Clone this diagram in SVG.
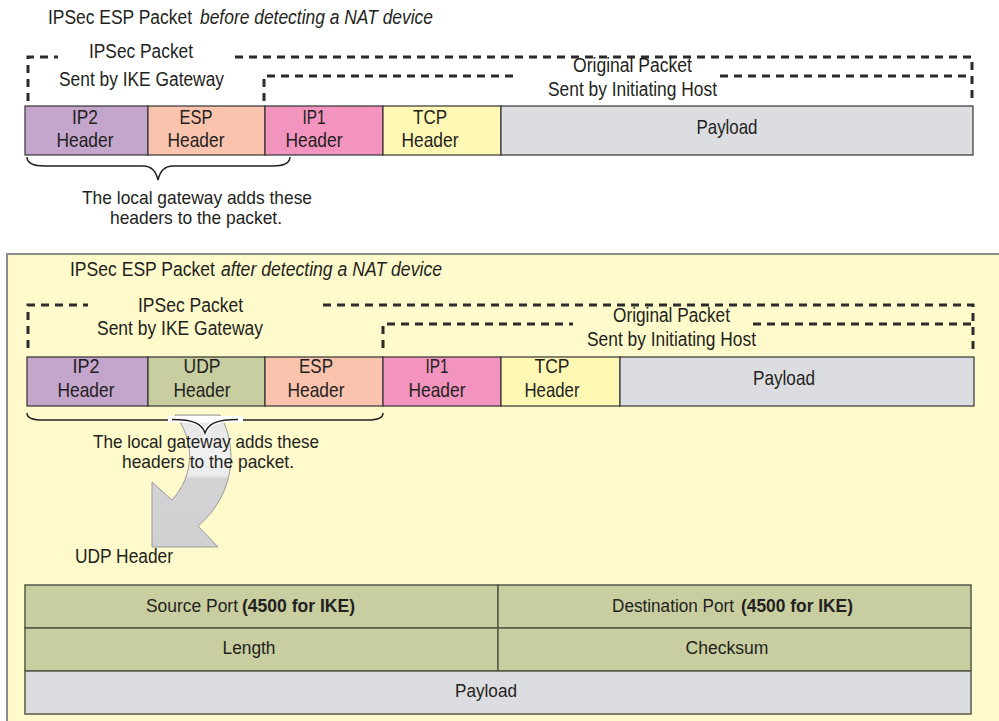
<svg xmlns="http://www.w3.org/2000/svg" width="999" height="721" viewBox="0 0 999 721">
<defs>
<style>
.t{font-family:"Liberation Sans Narrow","Liberation Sans",Arial,sans-serif;font-size:20px;fill:#231f20}
.h{font-size:21px}
.n{font-size:19px}
.s{font-size:17.5px}
.i{font-style:italic}
.b{font-weight:bold}
.c{text-anchor:middle}
.cell{stroke:#333;stroke-width:1.2}
.dash{fill:none;stroke:#2b2b2b;stroke-width:3;stroke-dasharray:8 6}
.brace{fill:none;stroke:#231f20;stroke-width:1.5}
.tbl{stroke:#55584a;stroke-width:1.5}
</style>
<linearGradient id="ag" gradientUnits="userSpaceOnUse" x1="0" y1="415" x2="0" y2="547">
<stop offset="0" stop-color="#e2e2e2"/>
<stop offset="0.3" stop-color="#f1f1f1"/>
<stop offset="0.46" stop-color="#ebebeb"/>
<stop offset="0.48" stop-color="#d3d3d5"/>
<stop offset="1" stop-color="#d0d0d2"/>
</linearGradient>
</defs>
<rect x="0" y="0" width="999" height="721" fill="#ffffff"/>

<!-- Top section -->
<text class="t" x="48" y="24" textLength="144" lengthAdjust="spacingAndGlyphs">IPSec ESP Packet</text>
<text class="t i" x="200" y="24" textLength="233" lengthAdjust="spacingAndGlyphs">before detecting a NAT device</text>

<g id="top-frames">
<path class="dash" d="M28,101 V57 H58"/>
<path class="dash" d="M235,57 H972 V103"/>
<path class="dash" d="M264,101 V76 H517"/>
<path class="dash" d="M720,76 H972"/>
<text class="t" x="89" y="58" textLength="104" lengthAdjust="spacingAndGlyphs">IPSec Packet</text>
<text class="t" x="59" y="86" textLength="165" lengthAdjust="spacingAndGlyphs">Sent by IKE Gateway</text>
<text class="t" x="573" y="72" textLength="119" lengthAdjust="spacingAndGlyphs">Original Packet</text>
<text class="t" x="548" y="96" textLength="169" lengthAdjust="spacingAndGlyphs">Sent by Initiating Host</text>
</g>

<g id="top-ip2">
<rect class="cell" x="25" y="106" width="123" height="49" fill="#c4a5cb"/>
<text class="t h c" x="85" y="124" textLength="26" lengthAdjust="spacingAndGlyphs">IP2</text>
<text class="t h c" x="85" y="146.5" textLength="57" lengthAdjust="spacingAndGlyphs">Header</text>
</g>
<g id="top-esp">
<rect class="cell" x="148" y="106" width="117" height="49" fill="#f9c3ad"/>
<text class="t h c" x="196" y="124" textLength="33" lengthAdjust="spacingAndGlyphs">ESP</text>
<text class="t h c" x="196" y="146.5" textLength="57" lengthAdjust="spacingAndGlyphs">Header</text>
</g>
<g id="top-ip1">
<rect class="cell" x="265" y="106" width="118" height="49" fill="#f294be"/>
<text class="t h c" x="314" y="124" textLength="23" lengthAdjust="spacingAndGlyphs">IP1</text>
<text class="t h c" x="314" y="146.5" textLength="57" lengthAdjust="spacingAndGlyphs">Header</text>
</g>
<g id="top-tcp">
<rect class="cell" x="383" y="106" width="118" height="49" fill="#fef8b4"/>
<text class="t h c" x="430" y="124" textLength="34" lengthAdjust="spacingAndGlyphs">TCP</text>
<text class="t h c" x="430" y="146.5" textLength="57" lengthAdjust="spacingAndGlyphs">Header</text>
</g>
<g id="top-payload">
<rect class="cell" x="501" y="106" width="472" height="49" fill="#dcdde0"/>
<text class="t h c" x="727" y="134" textLength="61" lengthAdjust="spacingAndGlyphs">Payload</text>
</g>

<g id="top-note">
<text class="t n c" x="197" y="204" textLength="230" lengthAdjust="spacingAndGlyphs">The local gateway adds these</text>
<text class="t n c" x="196" y="224" textLength="172" lengthAdjust="spacingAndGlyphs">headers to the packet.</text>
</g>

<!-- Bottom panel -->
<rect id="panel" x="7" y="254" width="1000" height="480" fill="#fefacb" stroke="#8c8c8c" stroke-width="2"/>
<text class="t" x="70" y="276" textLength="145" lengthAdjust="spacingAndGlyphs">IPSec ESP Packet</text>
<text class="t i" x="221" y="276" textLength="221" lengthAdjust="spacingAndGlyphs">after detecting a NAT device</text>

<g id="nat-frames">
<path class="dash" d="M28,348 V305 H88"/>
<path class="dash" d="M323,305 H973 V352"/>
<path class="dash" d="M383,348 V324 H573"/>
<path class="dash" d="M753,324 H973"/>
<text class="t" x="138" y="312" textLength="105" lengthAdjust="spacingAndGlyphs">IPSec Packet</text>
<text class="t" x="97" y="335" textLength="166" lengthAdjust="spacingAndGlyphs">Sent by IKE Gateway</text>
<text class="t" x="613" y="322" textLength="117" lengthAdjust="spacingAndGlyphs">Original Packet</text>
<text class="t" x="587" y="346" textLength="169" lengthAdjust="spacingAndGlyphs">Sent by Initiating Host</text>
</g>

<g id="nat-ip2">
<rect class="cell" x="27" y="357" width="121" height="49" fill="#c4a5cb"/>
<text class="t h c" x="86" y="373" textLength="27" lengthAdjust="spacingAndGlyphs">IP2</text>
<text class="t h c" x="86" y="397" textLength="57" lengthAdjust="spacingAndGlyphs">Header</text>
</g>
<g id="nat-udp">
<rect class="cell" x="148" y="357" width="117" height="49" fill="#c8cea0"/>
<text class="t h c" x="202" y="373" textLength="37" lengthAdjust="spacingAndGlyphs">UDP</text>
<text class="t h c" x="202" y="397" textLength="57" lengthAdjust="spacingAndGlyphs">Header</text>
</g>
<g id="nat-esp">
<rect class="cell" x="265" y="357" width="118" height="49" fill="#f9c3ad"/>
<text class="t h c" x="316" y="373" textLength="34" lengthAdjust="spacingAndGlyphs">ESP</text>
<text class="t h c" x="316" y="397" textLength="57" lengthAdjust="spacingAndGlyphs">Header</text>
</g>
<g id="nat-ip1">
<rect class="cell" x="383" y="357" width="118" height="49" fill="#f294be"/>
<text class="t h c" x="437" y="373" textLength="23" lengthAdjust="spacingAndGlyphs">IP1</text>
<text class="t h c" x="437" y="397" textLength="57" lengthAdjust="spacingAndGlyphs">Header</text>
</g>
<g id="nat-tcp">
<rect class="cell" x="501" y="357" width="119" height="49" fill="#fef8b4"/>
<text class="t h c" x="552" y="373" textLength="35" lengthAdjust="spacingAndGlyphs">TCP</text>
<text class="t h c" x="552" y="397" textLength="55" lengthAdjust="spacingAndGlyphs">Header</text>
</g>
<g id="nat-payload">
<rect class="cell" x="620" y="357" width="354" height="49" fill="#dcdde0"/>
<text class="t h c" x="784" y="385" textLength="62" lengthAdjust="spacingAndGlyphs">Payload</text>
</g>

<g id="connectors">
<path class="brace" d="M27,157 C27,163 33,166 45,166 H143 C151,166 156,171 158,180 C160,171 165,166 173,166 H272 C284,166 290,163 290,157"/>
<path class="brace" d="M27,413 C27,418 32,420 42,420 H190 C198,420 203,425 205,433 C207,425 212,420 220,420 H368 C378,420 383,418 383,413"/>
<path d="M175,415 L220,415 C235,440 240,490 198,526 L218,547 L152,547 L152,482 L172,500 C195,475 195,440 175,415 Z" fill="url(#ag)" stroke="#999999" stroke-width="1"/>
<rect x="168" y="416" width="75" height="6.5" fill="#ffffff"/>
<path d="M172,419.5 C194,419.5 202,424 205,433 C208,424 216,419.5 238,419.5" fill="none" stroke="#ffffff" stroke-width="4"/>
<path d="M172,419.5 C194,419.5 202,424 205,433 C208,424 216,419.5 238,419.5" fill="none" stroke="#231f20" stroke-width="1.5"/>
</g>

<g id="nat-note">
<text class="t n c" x="206" y="448" textLength="226" lengthAdjust="spacingAndGlyphs">The local gateway adds these</text>
<text class="t n c" x="208" y="468" textLength="172" lengthAdjust="spacingAndGlyphs">headers to the packet.</text>
</g>

<text id="udp-label" class="t" x="75" y="563" textLength="98" lengthAdjust="spacingAndGlyphs">UDP Header</text>

<g id="udp-table">
<rect class="tbl" x="25" y="585" width="473" height="43" fill="#c8cea0"/>
<rect class="tbl" x="498" y="585" width="473" height="43" fill="#c8cea0"/>
<rect class="tbl" x="25" y="628" width="473" height="43" fill="#c8cea0"/>
<rect class="tbl" x="498" y="628" width="473" height="43" fill="#c8cea0"/>
<rect class="tbl" x="25" y="671" width="946" height="43" fill="#dcdde0" stroke="#666"/>
<text class="t s" x="146" y="612" textLength="92" lengthAdjust="spacingAndGlyphs">Source Port</text>
<text class="t s b" x="242" y="612" textLength="113" lengthAdjust="spacingAndGlyphs">(4500 for IKE)</text>
<text class="t s" x="612" y="612" textLength="122" lengthAdjust="spacingAndGlyphs">Destination Port</text>
<text class="t s b" x="741" y="612" textLength="112" lengthAdjust="spacingAndGlyphs">(4500 for IKE)</text>
<text class="t s c" x="249" y="654" textLength="53" lengthAdjust="spacingAndGlyphs">Length</text>
<text class="t s c" x="727" y="654" textLength="83" lengthAdjust="spacingAndGlyphs">Checksum</text>
<text class="t s c" x="486" y="697" textLength="62" lengthAdjust="spacingAndGlyphs">Payload</text>
</g>
</svg>
